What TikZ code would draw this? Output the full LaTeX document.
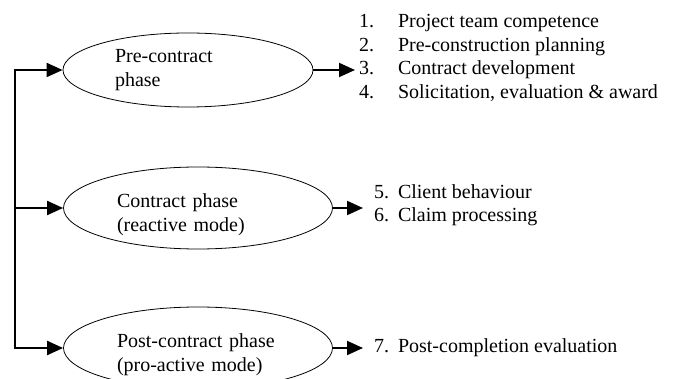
\documentclass[tikz,border=0pt]{standalone}
\usepackage{fontspec}
\setmainfont{Liberation Serif}
\usetikzlibrary{shapes,arrows.meta,positioning,calc}

\newcommand{\numitem}[3]{\makebox[#1][l]{#2}#3}
\newcommand{\lowstrut}{\rule{0pt}{27pt}}

\begin{document}
\begin{tikzpicture}[x=1pt, y=-1pt, >={Triangle[length=16pt,width=14pt]}, line width=2pt,
    phase/.style={draw, ellipse, line width=0.8pt, inner sep=0pt, align=left, font=\fontsize{20}{24}\selectfont},
    items/.style={anchor=west, inner ysep=0pt, align=left, font=\fontsize{20}{23.5}\selectfont}]
        \useasboundingbox (0,0) rectangle (674,379);
        % Phases
        \node[phase, minimum width=250pt, minimum height=74pt, text width=146pt] (pre) at (188,70) {Pre-contract\\phase};
        \node[phase, minimum width=269pt, minimum height=82pt, text width=162pt] (con) at (198,208) {\lowstrut Contract phase\\(reactive mode)};
        \node[phase, minimum width=269pt, minimum height=82pt, text width=162pt] (post) at (198,348) {\lowstrut Post-contract phase\\(pro-active mode)};

        % Factors
        \node[items, inner xsep=3pt] (items1) at (355,58) {\numitem{39pt}{1.}{Project team competence}\\
            \numitem{39pt}{2.}{Pre-construction planning}\\
            \numitem{39pt}{3.}{Contract development}\\
            \numitem{39pt}{4.}{Solicitation, evaluation \& award}};
        \node[items, inner xsep=10pt] (items2) at (363,205) {\numitem{24pt}{5.}{Client behaviour}\\
            \numitem{24pt}{6.}{Claim processing}};
        \node[items, inner xsep=10pt] (items3) at (363,348) {\numitem{24pt}{7.}{Post-completion evaluation}};

        % Edges
        \coordinate (spine) at (15,0);
        \draw[line cap=rect] (spine |- pre.west) -- (spine |- post.west);
        \foreach \n in {pre,con,post}
            \draw[->] (spine |- \n.west) -- (\n.west);

        \draw[->] (pre.east) -- (pre.east -| items1.west);
        \draw[->] (con.east) -- (con.east -| items2.west);
        \draw[->] (post.east) -- (post.east -| items3.west);
    \end{tikzpicture}
\end{document}
